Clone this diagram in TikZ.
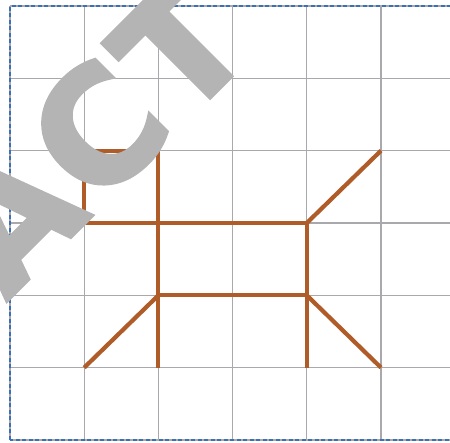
\documentclass[tikz,border=0pt]{standalone}
\usepackage{fontspec}
\usepackage{xcolor}
\newfontfamily\markfont{DejaVu Sans}[BoldFeatures={FakeBold=3}, LetterSpace=4.5]
\definecolor{gridgray}{HTML}{A9A9AD}
\definecolor{frameblue}{HTML}{3B6FB6}
\definecolor{rust}{HTML}{B05C28}
\definecolor{markgray}{HTML}{B4B4B4}
\tikzset{
  gridline/.style={draw=gridgray, line width=1.3pt},
  frameline/.style={draw=frameblue, line width=1.6pt, dash pattern=on 4pt off 2.5pt},
  figline/.style={draw=rust, line width=4.2pt},
  watermark/.style={text=markgray, inner sep=0pt, rotate=45, anchor=base west,
    font=\markfont\bfseries\fontsize{156}{156}\selectfont}
}
\begin{document}
\begin{tikzpicture}[x=74.2pt,y=72.33pt]
\useasboundingbox (-0.1348,-0.0415) rectangle (5.930,6.083);
\clip (-0.1348,-0.0415) rectangle (5.930,6.083);
% grid and frame
\draw[gridline, step=1] (0,0) grid (6,6);
\draw[frameline] (0,0) rectangle (6,6);
% grid points
\foreach \i in {0,...,6}
  \foreach \j in {0,...,6}
    \coordinate (p\i\j) at (\i,\j);
% figure
\draw[figline] (p13) -- (p14) -- (p24) -- (p21);
\draw[figline] (p13) -- (p43) -- (p41);
\draw[figline] (p22) -- (p42);
\draw[figline] (p11) -- (p22);
\draw[figline] (p43) -- (p54);
\draw[figline] (p42) -- (p51);
% watermark
\node[watermark] (mark) at (-0.0485,1.927) {ACT};
\end{tikzpicture}
\end{document}
